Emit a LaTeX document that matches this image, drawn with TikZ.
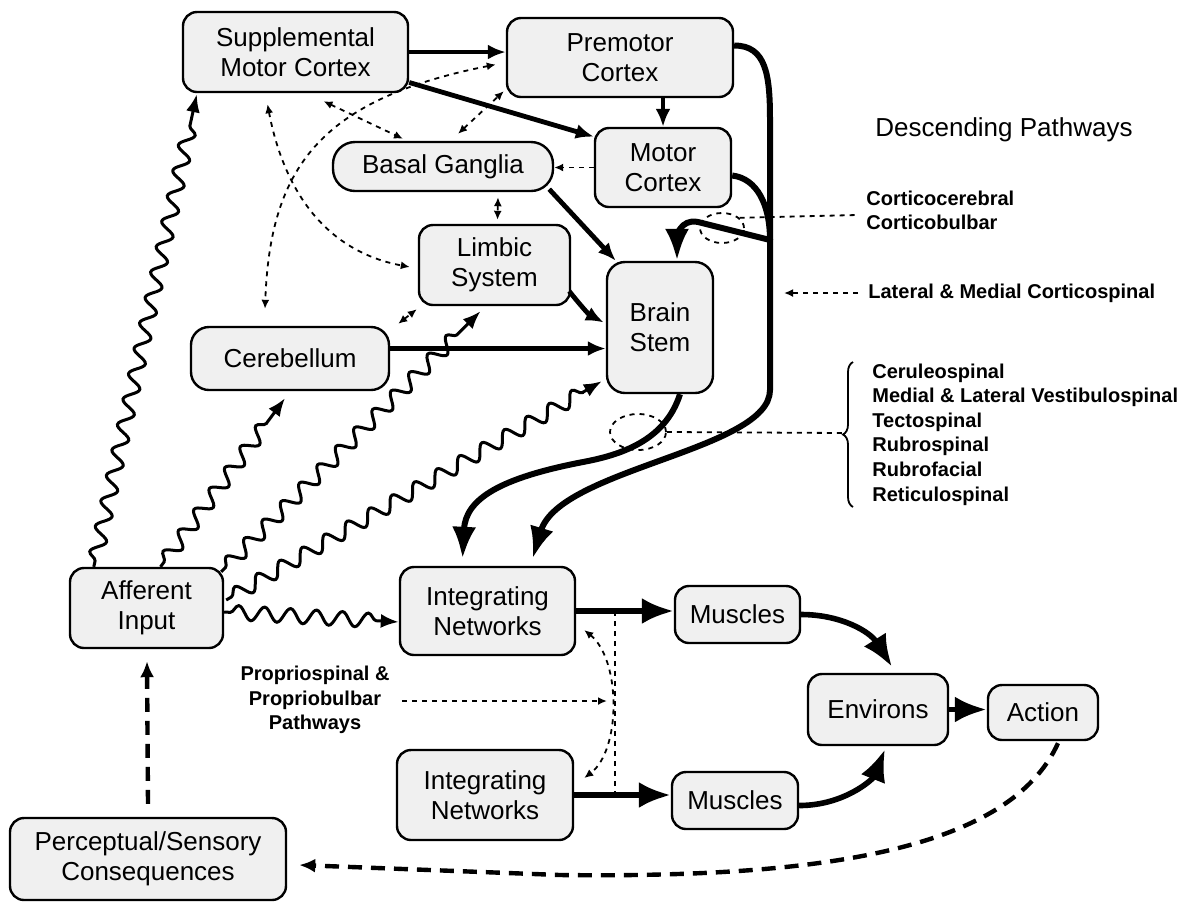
\documentclass[tikz,border=0pt]{standalone}
\usepackage{fontspec}
\setmainfont{Liberation Sans}
\usetikzlibrary{arrows.meta,shapes.geometric,calc,decorations.pathmorphing,decorations.pathreplacing}

\begin{document}
\begin{tikzpicture}[
  x=0.5pt,y=-0.5pt,
  box/.style={rectangle,draw=black,line width=1.2pt,rounded corners=7pt,align=center,fill=black!6,inner sep=2pt,font=\fontsize{13}{15}\selectfont},
  lbl/.style={inner sep=0pt,align=left,font=\bfseries\fontsize{10}{12.3}\selectfont},
  ell/.style={ellipse,draw=black,line width=0.9pt,dash pattern=on 2.5pt off 2.5pt,inner sep=0pt},
  thk/.style={-{Latex[length=9pt,width=7.5pt]},line width=2.4pt},
  big/.style={-{Latex[length=16pt,width=12pt]},line width=3pt},
  fat/.style={-{Latex[length=16pt,width=13pt]},line width=2.8pt},
  dsh/.style={line width=0.9pt,dash pattern=on 2.5pt off 2.5pt},
  dar/.style={dsh,-{Latex[length=4.5pt,width=4pt]}},
  dbl/.style={dsh,{Latex[length=4.5pt,width=4pt]}-{Latex[length=4.5pt,width=4pt]}},
  wav/.style={-{Latex[length=9pt,width=7pt]},line width=1.5pt,decorate,decoration={snake,segment length=13pt,amplitude=3.6pt,pre length=3pt,post length=11pt}},
  fb/.style={-{Latex[length=8pt,width=7pt]},line width=2.2pt,dash pattern=on 7pt off 4.5pt}
]
\useasboundingbox (0,0) rectangle (1189,902);

% brain areas
\node[box,minimum width=112.5pt,minimum height=40pt] (smc) at (295.5,52) {Supplemental\\Motor Cortex};
\node[box,minimum width=113pt,minimum height=39.5pt] (pmc) at (620,57.5) {Premotor\\Cortex};
\node[box,minimum width=68pt,minimum height=39.5pt] (mc) at (663,167.5) {Motor\\Cortex};
\node[box,rounded corners=11pt,minimum width=110pt,minimum height=24.5pt] (bg) at (443,166.5) {Basal Ganglia};
\node[box,minimum width=75.5pt,minimum height=40pt] (ls) at (494.5,265) {Limbic\\System};
\node[box,rounded corners=9pt,minimum width=53pt,minimum height=65.5pt] (bs) at (660,327.5) {Brain\\Stem};
\node[box,rounded corners=9pt,minimum width=99pt,minimum height=31.5pt] (cb) at (290,358.5) {Cerebellum};

% spinal level and periphery
\node[box,minimum width=76.5pt,minimum height=40pt] (ai) at (146.5,608) {Afferent\\Input};
\node[box,minimum width=87.5pt,minimum height=44pt] (in1) at (487.5,611) {Integrating\\Networks};
\node[box,minimum width=88pt,minimum height=45pt] (in2) at (485,795) {Integrating\\Networks};
\node[box,minimum width=62.5pt,minimum height=28.5pt] (mu1) at (737.5,614.5) {Muscles};
\node[box,minimum width=63pt,minimum height=28.5pt] (mu2) at (735,800.5) {Muscles};
\node[box,minimum width=70pt,minimum height=35.5pt] (env) at (878,709.5) {Environs};
\node[box,minimum width=55pt,minimum height=27.5pt] (act) at (1043,712.5) {Action};
\node[box,minimum width=138pt,minimum height=41pt] (psc) at (148,859) {Perceptual/Sensory\\Consequences};

% labels
\node[font=\fontsize{13}{15}\selectfont] (dp) at (1004,130) {Descending Pathways};
\node[lbl,anchor=west] (ccl) at (866,210.5) {Corticocerebral\\Corticobulbar};
\node[lbl,anchor=west] (lmc) at (868,293) {Lateral \& Medial Corticospinal};
\node[lbl,anchor=west] (dsl) at (872,434.5) {Ceruleospinal\\Medial \& Lateral Vestibulospinal\\Tectospinal\\Rubrospinal\\Rubrofacial\\Reticulospinal};
\node[lbl,align=center] (pp) at (315,700) {Propriospinal \&\\Propriobulbar\\Pathways};

\node[ell,minimum width=22pt,minimum height=15pt] (e1) at (722,228) {};
\node[ell,minimum width=28pt,minimum height=18pt] (e2) at (638,432) {};

\coordinate (dtop) at (770,120);
\coordinate (dj) at (770,240);
\coordinate (dbot) at (770,390);
\coordinate (bsm) at (583,462);
\coordinate (cctip) at (857,215);
\coordinate (bt) at (845,433);
\coordinate (j1) at (615,611);
\coordinate (j2) at (615,795);
\coordinate (pj) at (607,701);
\coordinate (fbm) at (560,875);

\draw[line width=0.9pt,decorate,decoration={brace,amplitude=5pt}] (853,507) -- (853,362);

% cortex and subcortex
\draw[thk] (smc.east) -- (smc.east -| pmc.west);
\draw[thk] (smc.-15) -- (mc.156);
\draw[thk] (mc.north |- pmc.south) -- (mc.north);
\draw[thk] ($(bg.south east)+(-5,-3)$) -- ($(bs.north west)+(10,0)$);
\draw[thk] ($(ls.south east)+(-2,-15)$) .. controls +(12,15) and +(-15,-8) .. ($(bs.west)+(-2,-5)$);
\draw[thk] ([yshift=5pt]cb.east) -- ([yshift=5pt]cb.east -| bs.west);

\draw[dar] (mc.west) -- (mc.west -| bg.east);
\draw[dbl] ($(smc.south)+(28,8)$) -- ($(bg.north)+(-40,-2)$);
\draw[dbl] ($(bg.north)+(15,-7)$) -- ($(pmc.south west)+(-2,-7)$);
\draw[dbl] ($(smc.south)+(-28,11)$) .. controls +(14.5,77) and +(-91,-17) .. ($(ls.west)+(-8,2)$);
\draw[dbl] ($(pmc.west)+(-10,7)$) .. controls +(-177,35) and +(5,-140) .. ($(cb.north)+(-25,-17)$);
\draw[dbl] ($(bg.south)+(55,5)$) -- ($(ls.north)+(3,-4)$);
\draw[dbl] ($(cb.north east)+(8,-2)$) -- ($(ls.south west)+(-1,3)$);

% afferent input
\draw[wav] ($(ai.north west)+(25,0)$) -- ($(smc.south west)+(15,1)$);
\draw[wav] ($(ai.north)+(14,0)$) -- ($(cb.south)+(-5,7)$);
\draw[wav] ($(ai.north east)+(-3,5)$) -- ($(ls.south)+(-14,5)$);
\draw[wav] ($(ai.east)+(2,-8)$) -- ($(bs.south west)+(-4,-13)$);
\draw[wav] ($(ai.east)+(0,4)$) -- ($(in1.west)+(0,11)$);

% descending pathways
\draw[big] ($(pmc.east)+(0,-12)$) .. controls +(32,0) and +(0,-45) .. (dtop) -- (dbot) .. controls +(0,60) and +(27,-90) .. ($(in1.north)+(45,-7)$);
\draw[line width=3pt] ($(mc.east)+(0,8)$) .. controls +(25,3) and +(0,-35) .. (dj);
\draw[big] (dj) -- ++(-72,-18) .. controls +(-18,-4) and +(0,-22) .. ($(bs.north)+(17,0)$);
\draw[big] ($(bs.south)+(20,0)$) .. controls +(-15,47) and +(37,-7) .. (bsm) .. controls +(-83,16) and +(3,-60) .. ($(in1.north)+(-25,-7)$);

\draw[dsh] (e1.30) -- (cctip);
\draw[dar] ([xshift=-5pt]lmc.west) -- ++(-74,0);
\draw[dsh] (e2.east) -- (bt);

% spinal level
\draw[fat] (in1.east) -- (in1.east -| mu1.west);
\draw[fat] (in2.east) -- (in2.east -| mu2.west);
\draw[dsh] (j1) -- (j2);
\draw[dbl] ($(in1.east)+(8,19)$) .. controls +(37,30) and +(37,-28) .. ($(in2.east)+(10,-17)$);
\draw[dar] ([xshift=6pt]pp.east |- pj) -- (pj);
\draw[fat] (mu1.east) .. controls +(40,0) and +(-22,-35) .. ($(env.north)+(14,-6)$);
\draw[fat] ($(mu2.east)+(0,5)$) .. controls +(45,0) and +(-12,30) .. ($(env.south)+(7,3)$);
\draw[fat] (env.east) -- (env.east -| act.west);

% feedback
\draw[fb] ($(act.south)+(15,2)$) .. controls +(-50,110) and +(250,3) .. (fbm) -- ($(psc.east)+(12,6)$);
\draw[fb] ($(psc.north)+(0,-13)$) -- ($(ai.south)+(0.5,12)$);
\end{tikzpicture}
\end{document}
